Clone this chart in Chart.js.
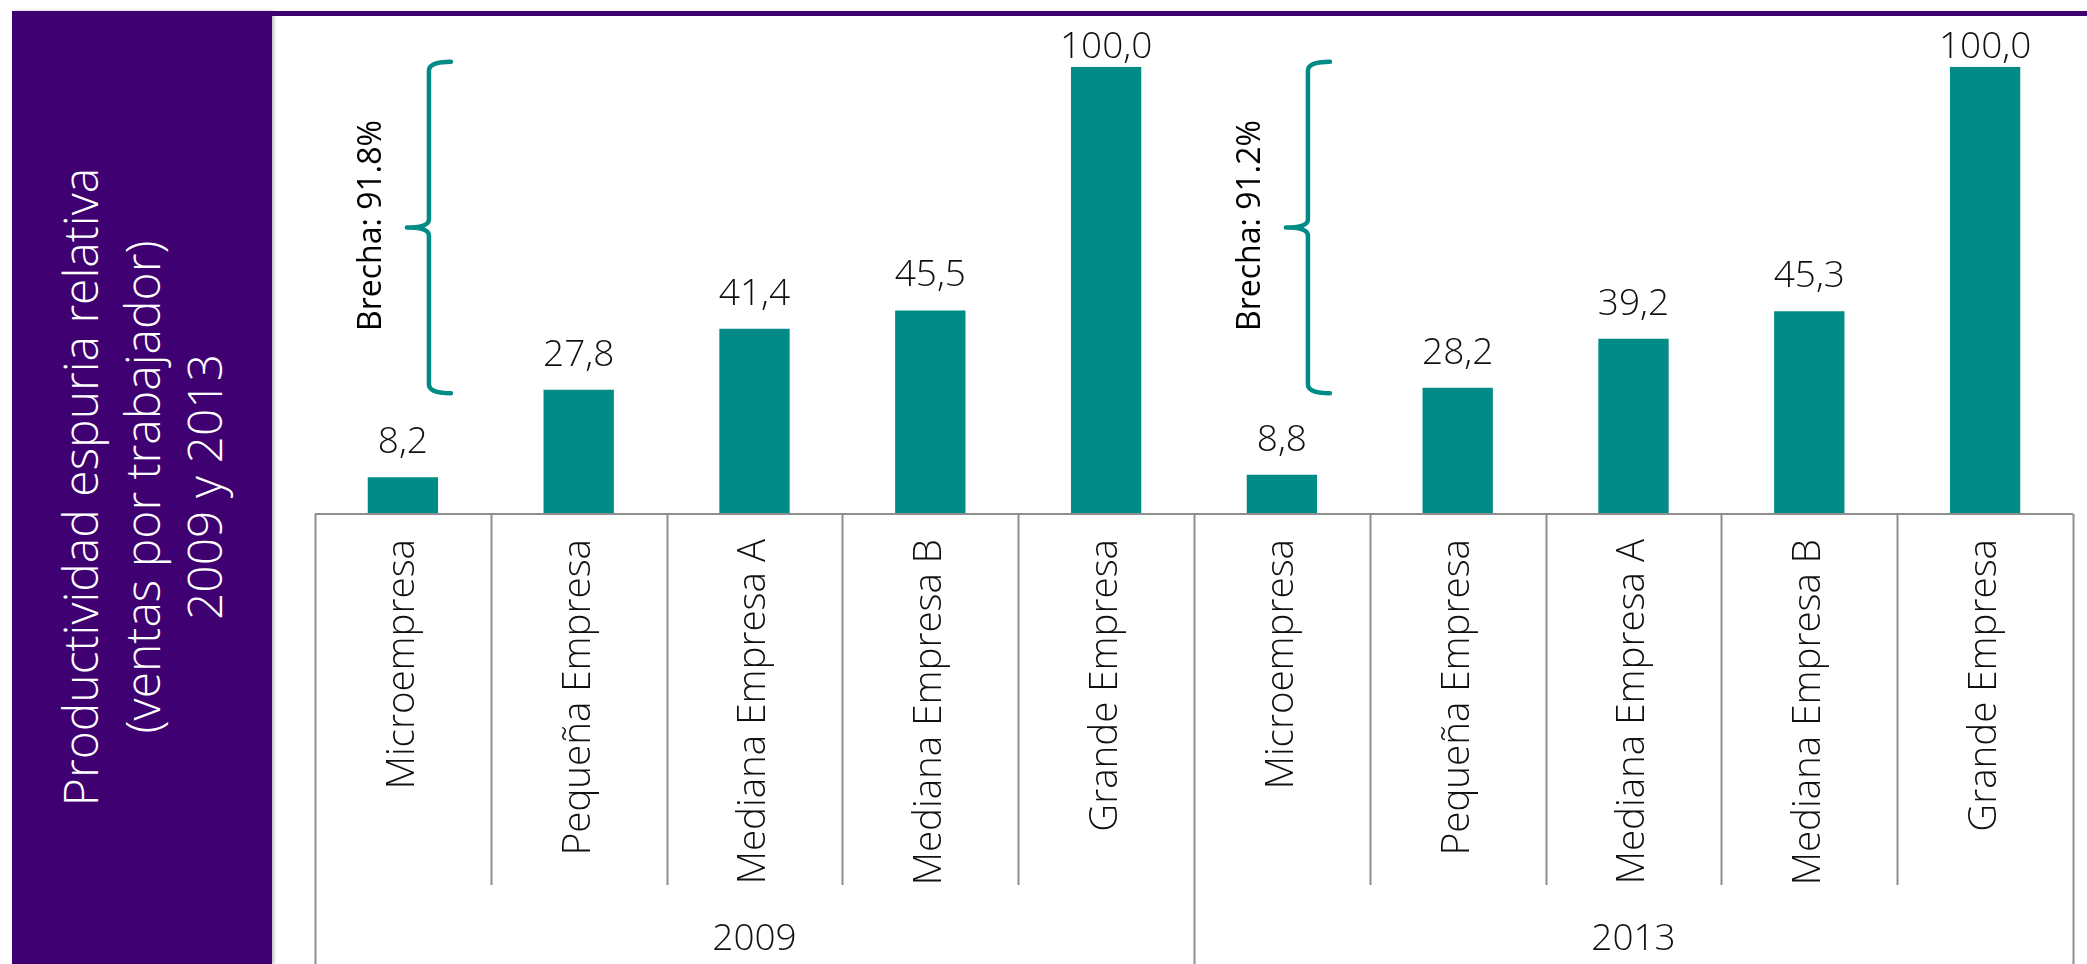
<!DOCTYPE html>
<html>
<head>
<meta charset="utf-8">
<script src="https://cdn.jsdelivr.net/npm/chart.js@4.4.1/dist/chart.umd.min.js"></script>
<style>
  html, body { margin:0; padding:0; background:#fff; }
  #wrap { position:relative; width:2087px; height:964px; overflow:hidden; background:#fff; }
  #panel { position:absolute; left:12px; top:11px; width:260px; height:953px; background:#3F0072;
           box-shadow: 2px 0 3px rgba(0,0,0,0.25); }
  #topline { position:absolute; left:12px; top:11px; width:2075px; height:5px; background:#3F0072; }
  #ytitle { position:absolute; left:142px; top:487px; width:900px;
            transform: translate(-50%,-50%) rotate(-90deg);
            color:#fff; font-family:'Open Sans', sans-serif; font-weight:350; font-size:48px;
            line-height:62px; text-align:center; white-space:nowrap; }
  #c { position:absolute; left:0; top:0; }
</style>
</head>
<body>
<div id="wrap">
  <div id="panel"></div>
  <div id="topline"></div>
  <div id="ytitle">Productividad espuria relativa<br>(ventas por trabajador)<br>2009 y 2013</div>
  <canvas id="c" width="2087" height="964"></canvas>
</div>
<script>
// ---- data ----
const categories = ['Microempresa', 'Pequeña Empresa', 'Mediana Empresa A', 'Mediana Empresa B', 'Grande Empresa'];
const years = ['2009', '2013'];
const values2009 = [8.2, 27.8, 41.4, 45.5, 100.0];
const values2013 = [8.8, 28.2, 39.2, 45.3, 100.0];
const gaps = [91.8, 91.2];

// ---- derived ----
const labels = years.flatMap(() => categories);
const values = values2009.concat(values2013);

const TEAL = '#008B87';
const FONT = "'Open Sans', sans-serif";

const overlay = {
  id: 'overlay',
  afterDatasetsDraw(chart) {
    const ctx = chart.ctx;
    const xs = chart.scales.x, ys = chart.scales.y;
    const area = chart.chartArea;
    const n = labels.length;
    const catW = (area.right - area.left) / n;
    const base = area.bottom;
    const rowBottom = base + 371;
    const groupBottom = chart.height;

    ctx.save();
    // axis frame
    ctx.strokeStyle = '#8E8E8E';
    ctx.lineWidth = 2;
    ctx.beginPath();
    ctx.moveTo(area.left, base); ctx.lineTo(area.right, base);
    for (let i = 0; i <= n; i++) {
      const x = Math.round(area.left + i * catW) + 0.5;
      const isGroup = i % categories.length === 0;
      ctx.moveTo(x, base);
      ctx.lineTo(x, isGroup ? groupBottom : rowBottom);
    }
    ctx.stroke();

    // group labels
    ctx.fillStyle = '#111';
    ctx.font = `350 37px ${FONT}`;
    ctx.textAlign = 'center';
    ctx.textBaseline = 'alphabetic';
    years.forEach((yr, g) => {
      const x0 = xs.getPixelForValue(g * categories.length);
      const x1 = xs.getPixelForValue((g + 1) * categories.length - 1);
      ctx.fillText(yr, (x0 + x1) / 2, 950);
    });

    // value labels
    const meta = chart.getDatasetMeta(0);
    meta.data.forEach((bar, i) => {
      const txt = values[i].toFixed(1).replace('.', ',');
      const yb = Math.max(bar.y - 24, 58);
      ctx.fillText(txt, bar.x, yb);
    });

    // braces + gap text
    gaps.forEach((gap, g) => {
      const idx = g * categories.length;
      const x = xs.getPixelForValue(idx) + 0.148 * catW;
      const yTop = ys.getPixelForValue(101.1);
      const yBot = ys.getPixelForValue(27.0);
      const yMid = (yTop + yBot) / 2;
      ctx.strokeStyle = TEAL;
      ctx.lineWidth = 4.5;
      ctx.lineCap = 'round';
      ctx.lineJoin = 'round';
      ctx.beginPath();
      ctx.moveTo(x + 22, yTop);
      ctx.quadraticCurveTo(x, yTop, x, yTop + 9);
      ctx.lineTo(x, yMid - 8);
      ctx.quadraticCurveTo(x, yMid, x - 22, yMid);
      ctx.moveTo(x - 22, yMid);
      ctx.quadraticCurveTo(x, yMid, x, yMid + 8);
      ctx.lineTo(x, yBot - 9);
      ctx.quadraticCurveTo(x, yBot, x + 22, yBot);
      ctx.stroke();

      ctx.save();
      ctx.translate(x - 57, yMid - 2);
      ctx.rotate(-Math.PI / 2);
      ctx.fillStyle = '#000';
      ctx.font = `450 32px ${FONT}`;
      ctx.textAlign = 'center';
      ctx.textBaseline = 'middle';
      ctx.fillText('Brecha: ' + gap.toFixed(1) + '%', 0, 0);
      ctx.restore();
    });
    ctx.restore();
  }
};

new Chart(document.getElementById('c'), {
  type: 'bar',
  data: {
    labels: labels,
    datasets: [{
      data: values,
      backgroundColor: TEAL,
      borderWidth: 0,
      barPercentage: 0.4,
      categoryPercentage: 1.0
    }]
  },
  options: {
    responsive: false,
    animation: false,
    devicePixelRatio: 1,
    layout: { padding: { left: 315, right: 14, top: 66.7, bottom: 0 } },
    plugins: { legend: { display: false }, tooltip: { enabled: false } },
    scales: {
      x: {
        offset: true,
        grid: { display: false, drawTicks: false },
        border: { display: false },
        ticks: {
          autoSkip: false, maxRotation: 90, minRotation: 90, padding: 25,
          color: '#111', font: { family: FONT, size: 38.5, weight: 350 }
        },
        afterFit(scale) { scale.height = 450; }
      },
      y: { display: false, min: 0, max: 100 }
    }
  },
  plugins: [overlay]
});
</script>
</body>
</html>
